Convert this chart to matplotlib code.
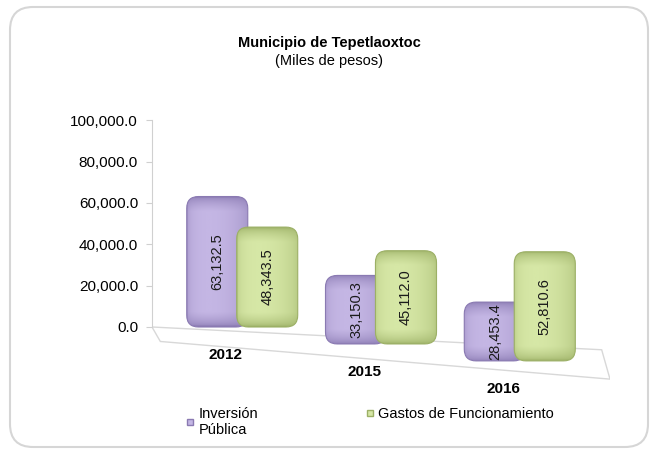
import numpy as np
import matplotlib
matplotlib.use("Agg")
import matplotlib.pyplot as plt
from matplotlib.patches import FancyBboxPatch, Polygon
from matplotlib.transforms import Affine2D
from matplotlib.lines import Line2D
from matplotlib.colors import LinearSegmentedColormap

plt.rcParams['font.family'] = ['Liberation Sans', 'DejaVu Sans']

years = ['2012', '2015', '2016']
inversion = [63132.5, 33150.3, 28453.4]
gastos = [48343.5, 45112.0, 52810.6]
series_names = ['Inversión\nPública', 'Gastos de Funcionamiento']
yticks = [0, 20000, 40000, 60000, 80000, 100000]

purple = ('#8a7ab2', '#c4b6e4')
green = ('#9cb066', '#d6e7a6')

fig = plt.figure(figsize=(6.58, 4.53), dpi=100)

# rounded outer frame
frame = FancyBboxPatch((10 / 658, 6 / 453), 638 / 658, 440 / 453,
                       boxstyle="round,pad=0,rounding_size=0.035",
                       mutation_aspect=658 / 453, transform=fig.transFigure,
                       fc='none', ec='#d6d6d6', lw=1.5, zorder=-1)
fig.patches.append(frame)

ax = fig.add_axes([152 / 658, 64 / 453, 458 / 658, 279 / 453])
xlim = (-0.65, 2.65)
ylim = (-30000, 105000)
ax.patch.set_alpha(0)

# fake perspective: each category sits a bit lower than the previous one
drop = 8200
back_slope = 3400
depth = 7000
floor = Polygon([(xlim[0], 0), (xlim[1] - 0.06, -back_slope * (xlim[1] - 0.06 - xlim[0])),
                 (xlim[1], -back_slope * (xlim[1] - xlim[0]) - 2.0 * depth),
                 (xlim[0] + 0.06, -depth)],
                closed=True, fc='white', ec='#d8d8d8', lw=1.0, zorder=1)
ax.add_patch(floor)

bar_w = 0.44
offset = 0.18
aspect = (1000 / 2.07) / (1 / 139.0)

xs = np.linspace(0, 1, 80)
prof_x = np.sin(np.pi * xs ** 0.66) ** 0.4


def draw_bar(xc, h, colors, shift, z0):
    tr = Affine2D().translate(0, -shift) + ax.transData
    p = FancyBboxPatch((xc - bar_w / 2, 0), bar_w, h,
                       boxstyle="round,pad=0,rounding_size=0.085",
                       mutation_aspect=aspect, fc='none', ec=colors[0], lw=0.8,
                       transform=tr, zorder=z0 + 0.1)
    ax.add_patch(p)
    ys = np.linspace(0, 1, 80)
    prof_y = np.clip(np.minimum(ys, 1 - ys) * h / 7000, 0, 1) ** 0.5
    z = prof_y[:, None] * (0.3 + 0.7 * prof_x[None, :])
    cmap = LinearSegmentedColormap.from_list('c', colors)
    im = ax.imshow(z, extent=(xc - bar_w / 2, xc + bar_w / 2, 0, h), origin='lower',
                   cmap=cmap, vmin=0, vmax=1, aspect='auto', transform=tr,
                   interpolation='bilinear', zorder=z0)
    im.set_clip_path(p)
    ax.text(xc, h / 2, f'{h:,.1f}', rotation=90, ha='center', va='center',
            fontsize=10.5, color='#1a1a1a', transform=tr, zorder=z0 + 0.2)


for i, y in enumerate(years):
    draw_bar(i - offset, inversion[i], purple, drop * i, 3)
    draw_bar(i + offset, gastos[i], green, drop * i, 4)
    ax.text(i - 0.12, -13500 - drop * i, y, ha='center', va='center', fontsize=11,
            fontweight='bold')

ax.set_xlim(*xlim)
ax.set_ylim(*ylim)
for s in ['top', 'right', 'bottom']:
    ax.spines[s].set_visible(False)
ax.spines['left'].set_bounds(0, 100000)
ax.spines['left'].set_color('#d0d0d0')
ax.set_xticks([])
ax.set_yticks(yticks)
ax.set_yticklabels([f'{v:,.1f}' for v in yticks], fontsize=11)
ax.tick_params(axis='y', colors='#d0d0d0', labelcolor='black', length=4, pad=6)

fig.text(0.5, 0.905, 'Municipio de Tepetlaoxtoc', ha='center', va='center',
         fontsize=10.5, fontweight='bold')
fig.text(0.5, 0.866, '(Miles de pesos)', ha='center', va='center', fontsize=10.5)

h1 = Line2D([], [], marker='s', ls='none', ms=5, mfc=purple[1], mec=purple[0])
h2 = Line2D([], [], marker='s', ls='none', ms=5, mfc=green[1], mec=green[0])
fig.legend([h1], [series_names[0]], loc='upper left', bbox_to_anchor=(0.28, 0.102),
           frameon=False, fontsize=10.5, handletextpad=0.2, handlelength=0.8,
           borderaxespad=0, borderpad=0)
fig.legend([h2], [series_names[1]], loc='upper left', bbox_to_anchor=(0.553, 0.102),
           frameon=False, fontsize=10.5, handletextpad=0.2, handlelength=0.8,
           borderaxespad=0, borderpad=0)

fig.savefig('out.png', dpi=100)
